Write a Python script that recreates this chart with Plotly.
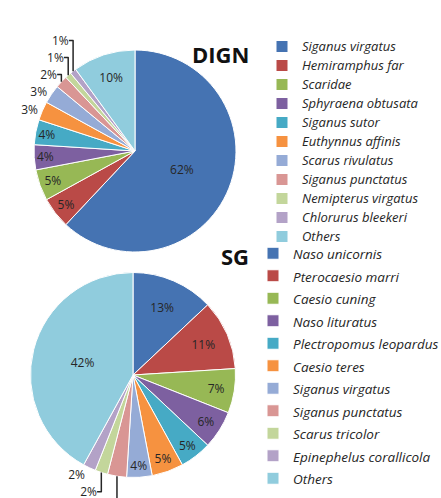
import plotly.graph_objects as go

# DIGN catch composition (% of total)
dign_species = ["Siganus virgatus", "Hemiramphus far", "Scaridae", "Sphyraena obtusata",
                "Siganus sutor", "Euthynnus affinis", "Scarus rivulatus", "Siganus punctatus",
                "Nemipterus virgatus", "Chlorurus bleekeri", "Others"]
dign_pct = [62, 5, 5, 4, 4, 3, 3, 2, 1, 1, 10]

# SG catch composition (% of total)
sg_species = ["Naso unicornis", "Pterocaesio marri", "Caesio cuning", "Naso lituratus",
              "Plectropomus leopardus", "Caesio teres", "Siganus virgatus", "Siganus punctatus",
              "Scarus tricolor", "Epinephelus corallicola", "Others"]
sg_pct = [13, 11, 7, 6, 5, 5, 4, 3, 2, 2, 42]

palette = ["#4573B2", "#BA4A47", "#97B855", "#7D60A0", "#46AAC5", "#F69240",
           "#95ABD6", "#D99694", "#C3D69B", "#B3A2C7", "#90CCDD"]

W, H = 441, 498
FONT = "Open Sans"
TXT = "#262626"


def pos(vals):
    # small slices get their percentage outside with a leader line
    return ["inside" if v >= 4 else "outside" for v in vals]


def dom(cx, cy, r):
    return dict(x=[(cx - r) / W, (cx + r) / W], y=[1 - (cy + r) / H, 1 - (cy - r) / H])


def legend_label(name, size):
    # entry text size is set per legend; the legend font itself sets the row pitch
    return f"<span style='font-size:{size}px'>{name}</span>"


pie_common = dict(
    sort=False, direction="clockwise", rotation=0,
    marker=dict(colors=palette, line=dict(color="white", width=1)),
    texttemplate="%{value}%", insidetextorientation="horizontal",
    textfont=dict(family=FONT, size=12, color=TXT), hoverinfo="label+percent",
)

fig = go.Figure()
fig.add_trace(go.Pie(
    labels=[legend_label(n, 13) for n in dign_species], values=dign_pct,
    textposition=pos(dign_pct), domain=dom(135, 151, 101), legend="legend", **pie_common,
))
fig.add_trace(go.Pie(
    labels=[legend_label(n, 13.5) for n in sg_species], values=sg_pct,
    textposition=pos(sg_pct), domain=dom(133, 375, 102.5), legend="legend2", **pie_common,
))

fig.update_layout(
    width=W, height=H, margin=dict(l=0, r=0, t=0, b=0, autoexpand=False),
    paper_bgcolor="white", plot_bgcolor="white",
    font=dict(family=FONT, color=TXT),
    uniformtext=dict(minsize=12, mode="show"),
    legend=dict(x=262 / W, y=1 - 32 / H, xanchor="left", yanchor="top",
                font=dict(family=FONT, size=12, color=TXT, style="italic"),
                bgcolor="rgba(0,0,0,0)"),
    legend2=dict(x=253 / W, y=1 - 237 / H, xanchor="left", yanchor="top",
                 font=dict(family=FONT, size=15, color=TXT, style="italic"),
                 bgcolor="rgba(0,0,0,0)"),
    annotations=[
        dict(text="<b>DIGN</b>", x=221 / W, y=1 - 37 / H, xref="paper", yref="paper",
             showarrow=False, font=dict(family=FONT, size=22, color="#111")),
        dict(text="<b>SG</b>", x=235 / W, y=1 - 256 / H, xref="paper", yref="paper",
             showarrow=False, font=dict(family=FONT, size=22, color="#111")),
    ],
)

fig.write_html("out.html")
